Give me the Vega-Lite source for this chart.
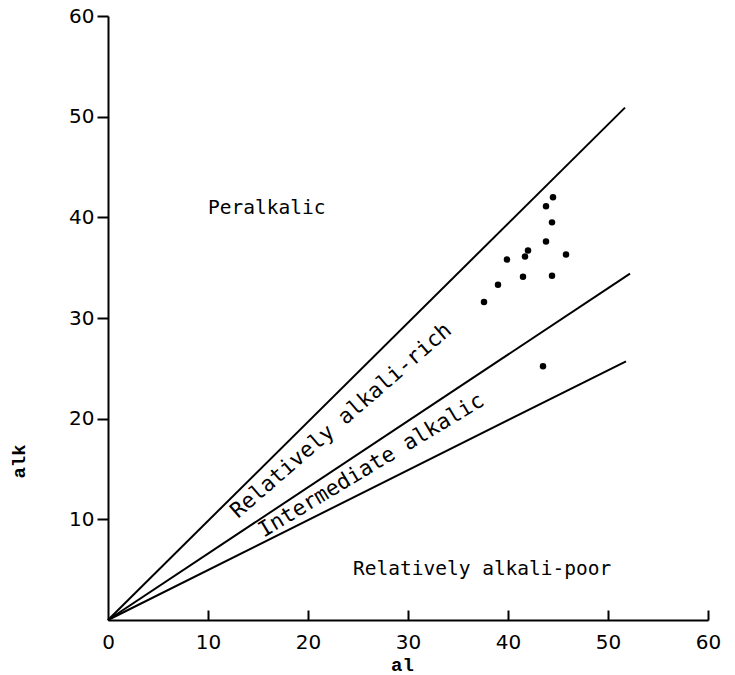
{
  "$schema": "https://vega.github.io/schema/vega-lite/v6.json",
  "autosize": {"type": "none"},
  "padding": {"left": 108, "top": 16, "right": 27, "bottom": 55},
  "width": 600,
  "height": 604,
  "background": "white",
  "config": {
    "view": {"stroke": null},
    "axis": {
      "grid": false,
      "domainColor": "black",
      "domainWidth": 2,
      "tickColor": "black",
      "tickWidth": 2,
      "labelColor": "black",
      "labelFont": "DejaVu Sans",
      "labelFontSize": 20,
      "labelFlush": false,
      "titleColor": "black",
      "titleFont": "Liberation Mono",
      "titleFontWeight": "bold",
      "titleFontSize": 19
    }
  },
  "datasets": {
    "points": [
      {"al": 44.5, "alk": 42.0},
      {"al": 43.8, "alk": 41.1},
      {"al": 44.4, "alk": 39.5},
      {"al": 43.8, "alk": 37.6},
      {"al": 42.0, "alk": 36.7},
      {"al": 41.7, "alk": 36.1},
      {"al": 39.9, "alk": 35.8},
      {"al": 45.8, "alk": 36.3},
      {"al": 41.5, "alk": 34.1},
      {"al": 44.4, "alk": 34.2},
      {"al": 39.0, "alk": 33.3},
      {"al": 37.6, "alk": 31.6},
      {"al": 43.5, "alk": 25.2}
    ],
    "lines": [
      {"line": "upper", "al": 0, "alk": 0},
      {"line": "upper", "al": 51.7, "alk": 50.9},
      {"line": "middle", "al": 0, "alk": 0},
      {"line": "middle", "al": 52.2, "alk": 34.4},
      {"line": "lower", "al": 0, "alk": 0},
      {"line": "lower", "al": 51.8, "alk": 25.7}
    ],
    "flat": [
      {"label": "Peralkalic", "al": 10.0, "alk": 40.9},
      {"label": "Relatively alkali-poor", "al": 24.5, "alk": 5.1}
    ],
    "rich": [
      {"label": "Relatively alkali-rich", "al": 23.35, "alk": 19.76}
    ],
    "inter": [
      {"label": "Intermediate alkalic", "al": 26.35, "alk": 15.3}
    ]
  },
  "resolve": {"axis": {"x": "independent"}},
  "layer": [
    {
      "data": {"name": "lines"},
      "mark": {"type": "line", "color": "black", "strokeWidth": 2},
      "encoding": {
        "x": {
          "field": "al",
          "type": "quantitative",
          "scale": {"domain": [0, 60], "nice": false},
          "axis": {
            "orient": "bottom",
            "values": [0, 10, 20, 30, 40, 50, 60],
            "ticks": false,
            "labelPadding": 12,
            "title": "al",
            "titleX": 294,
            "titleY": 44,
            "titleAlign": "center",
            "titleBaseline": "middle"
          }
        },
        "y": {
          "field": "alk",
          "type": "quantitative",
          "scale": {"domain": [0, 60], "nice": false},
          "axis": {
            "values": [10, 20, 30, 40, 50, 60],
            "tickSize": 11,
            "labelPadding": 3,
            "title": "alk",
            "titleAngle": -90,
            "titleX": -90,
            "titleY": 445,
            "titleAlign": "center",
            "titleBaseline": "middle"
          }
        },
        "detail": {"field": "line"}
      }
    },
    {
      "data": {"name": "points"},
      "mark": {"type": "circle", "color": "black", "opacity": 1, "size": 42},
      "encoding": {
        "x": {
          "field": "al",
          "type": "quantitative",
          "axis": {
            "orient": "top",
            "offset": -604,
            "values": [10, 20, 30, 40, 50, 60],
            "domain": false,
            "labels": false,
            "tickSize": 10,
            "title": null
          }
        },
        "y": {"field": "alk", "type": "quantitative"}
      }
    },
    {
      "data": {"name": "flat"},
      "mark": {"type": "text", "font": "DejaVu Sans Mono", "fontSize": 19.5, "align": "left", "baseline": "middle", "color": "black"},
      "encoding": {
        "x": {"field": "al", "type": "quantitative", "axis": null},
        "y": {"field": "alk", "type": "quantitative"},
        "text": {"field": "label"}
      }
    },
    {
      "data": {"name": "rich"},
      "mark": {"type": "text", "font": "DejaVu Sans Mono", "fontSize": 21.5, "align": "center", "baseline": "middle", "angle": -41, "color": "black"},
      "encoding": {
        "x": {"field": "al", "type": "quantitative", "axis": null},
        "y": {"field": "alk", "type": "quantitative"},
        "text": {"field": "label"}
      }
    },
    {
      "data": {"name": "inter"},
      "mark": {"type": "text", "font": "DejaVu Sans Mono", "fontSize": 21.5, "align": "center", "baseline": "middle", "angle": -31, "color": "black"},
      "encoding": {
        "x": {"field": "al", "type": "quantitative", "axis": null},
        "y": {"field": "alk", "type": "quantitative"},
        "text": {"field": "label"}
      }
    }
  ]
}
